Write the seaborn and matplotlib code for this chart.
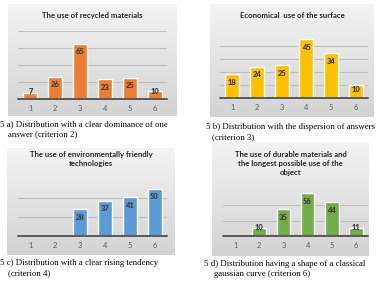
import numpy as np
import seaborn as sns
import matplotlib.pyplot as plt
from matplotlib.colors import LinearSegmentedColormap

categories = ["1", "2", "3", "4", "5", "6"]
recycled = [7, 26, 65, 23, 25, 10]
surface = [18, 24, 25, 45, 34, 10]
eco_tech = [0, 0, 28, 37, 41, 50]
durable = [0, 10, 35, 56, 44, 11]

titles = [
    "The use of recycled materials",
    "Economical  use of the surface",
    "The use of environmentally friendly\ntechnologies",
    "The use of durable materials and\nthe longest possible use of the\nobject",
]
captions = [
    ("5 a) Distribution with a clear dominance of one", "answer (criterion 2)"),
    ("5 b) Distribution with the dispersion of answers", "(criterion 3)"),
    ("5 c) Distribution with a clear rising tendency", "(criterion 4)"),
    ("5 d) Distribution having a shape of a classical", "gaussian curve (criterion 6)"),
]

W, H = 379, 282
sns.set_style("white")
plt.rcParams['font.family'] = ['Lato', 'DejaVu Sans']

fig = plt.figure(figsize=(W / 100, H / 100), dpi=100)
fig.patch.set_facecolor("white")

bg_cmap = LinearSegmentedColormap.from_list("bg", ["#d3d3d3", "#f3f3f3"])


def px_rect(x0, y0, x1, y1):
    return [x0 / W, 1 - y1 / H, (x1 - x0) / W, (y1 - y0) / H]


def panel(values, color, title, caption, bg_box, plot_box, ymax, grid_vals,
          title_y, cap_x, cap_indent, cap_y):
    bg = fig.add_axes(px_rect(*bg_box))
    bg.imshow(np.linspace(0, 1, 100).reshape(-1, 1), cmap=bg_cmap, origin="lower",
              extent=[0, 1, 0, 1], aspect="auto")
    bg.set_xlim(0, 1)
    bg.set_ylim(0, 1)
    bg.axis("off")
    bb = bg_box
    bg.text(0.5, 1 - (title_y - bb[1]) / (bb[3] - bb[1]), title, transform=bg.transAxes,
            ha="center", va="top", fontsize=5.6, fontweight="bold", color="#262626",
            linespacing=1.35)

    ax = fig.add_axes(px_rect(*plot_box))
    ax.patch.set_alpha(0)
    for y in grid_vals:
        ax.axhline(y, color="#bfbfbf", lw=0.8, zorder=0)
    sns.barplot(x=categories, y=values, order=categories, color=color, saturation=1,
                width=0.57, ax=ax, zorder=2)
    ax.set_xlim(-0.5, 5.5)
    ax.set_ylim(0, ymax)
    ax.axhline(0, color="#595959", lw=1.4, zorder=3, clip_on=False)
    for s in ax.spines.values():
        s.set_visible(False)
    ax.set_yticks([])
    ax.set_xlabel("")
    ax.set_ylabel("")
    ax.tick_params(axis="x", length=0, pad=4, labelsize=5.3, labelcolor="#595959")

    pxu = (plot_box[3] - plot_box[1]) / ymax
    for i, v in enumerate(values):
        if v == 0:
            continue
        yc = max(v - 8 / pxu, 8 / pxu)
        ax.text(i, yc, str(v), ha="center", va="center", fontsize=5.4,
                fontweight="heavy", color="#404040", zorder=4)

    fig.text(cap_x / W, 1 - cap_y[0] / H, caption[0], ha="left", va="center",
             fontsize=6.3, family="Liberation Serif", color="black")
    fig.text((cap_x + cap_indent) / W, 1 - cap_y[1] / H, caption[1], ha="left", va="center",
             fontsize=6.3, family="Liberation Serif", color="black")


panel(recycled, "#ed7d31", titles[0], captions[0],
      (8, 4, 177, 116), (18, 31, 167, 99), 80, [20, 40, 60, 80],
      12, 0, 8, (124, 134))
panel(surface, "#ffc000", titles[1], captions[1],
      (210, 4, 374, 117), (220, 32.5, 368, 98), 50, [10, 20, 30, 40],
      12, 206, 6, (127, 137))
panel(eco_tech, "#5b9bd5", titles[2], captions[2],
      (7, 148, 175, 255), (18, 179, 167, 236), 60, [20, 40],
      151, 0, 8, (263, 273))
panel(durable, "#70ad47", titles[3], captions[3],
      (212, 142, 369, 256), (223, 190, 368, 236), 60, [20, 40],
      151, 204, 10, (264, 274))

fig.savefig("out.png", dpi=100)
